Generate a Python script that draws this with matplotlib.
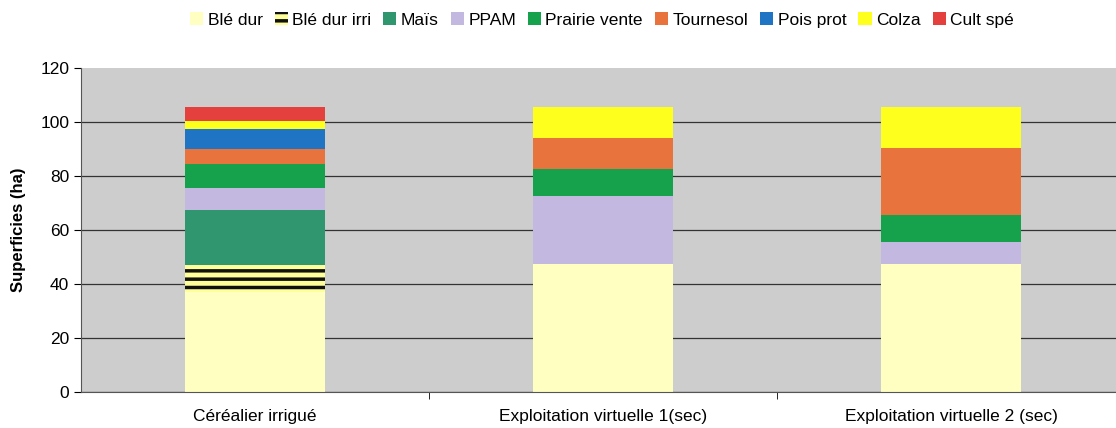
import numpy as np
import matplotlib.pyplot as plt

plt.rcParams['font.family'] = ['Liberation Sans', 'DejaVu Sans']
plt.rcParams['hatch.linewidth'] = 2.5

categories = ['Céréalier irrigué', 'Exploitation virtuelle 1(sec)', 'Exploitation virtuelle 2 (sec)']
cultures = ['Blé dur', 'Blé dur irri', 'Maïs', 'PPAM', 'Prairie vente',
            'Tournesol', 'Pois prot', 'Colza', 'Cult spé']

# surfaces (ha) par culture, une valeur par exploitation
ble_dur = [37, 47.5, 47.5]
ble_dur_irri = [10, 0, 0]
mais = [20.5, 0, 0]
ppam = [8, 25, 8]
prairie_vente = [9, 10, 10]
tournesol = [5.5, 11.5, 25]
pois_prot = [7.5, 0, 0]
colza = [3, 11.5, 15]
cult_spe = [5, 0, 0]

series = [ble_dur, ble_dur_irri, mais, ppam, prairie_vente,
          tournesol, pois_prot, colza, cult_spe]
colors = ['#ffffc2', '#ffff99', '#2f9670', '#c3b8e0', '#16a24c',
          '#e8733d', '#1f74c4', '#ffff1e', '#e3403e']

fig = plt.figure(figsize=(11.16, 4.28), dpi=100)
ax = fig.add_axes([81 / 1116, 1 - 392 / 428, (1125 - 81) / 1116, (392 - 68) / 428])
ax.set_facecolor('#cdcdce')

x = np.arange(len(categories))
bottom = np.zeros(len(categories))
for name, vals, col in zip(cultures, series, colors):
    vals = np.array(vals, dtype=float)
    if name == 'Blé dur irri':
        ax.bar(x, vals, 0.4, bottom=bottom, color=col, edgecolor='#111111',
               hatch='--', linewidth=0, label=name)
    else:
        ax.bar(x, vals, 0.4, bottom=bottom, color=col, linewidth=0, label=name)
    bottom += vals

ax.set_xlim(-0.5, 2.5)
ax.set_ylim(0, 120)
ax.set_yticks(np.arange(0, 121, 20))
ax.set_xticks(x)
ax.set_xticklabels(categories, fontsize=12.5)
ax.set_xticks([0.5, 1.5], minor=True)
ax.tick_params(axis='x', which='major', length=0, pad=12)
ax.tick_params(axis='x', which='minor', length=5, direction='out')
ax.tick_params(axis='y', labelsize=12.5, length=5, direction='out')
ax.yaxis.grid(True, color='#333333', linewidth=0.9)
ax.get_ygridlines()[-1].set_visible(False)
ax.set_axisbelow(True)
for s in ['top', 'right']:
    ax.spines[s].set_visible(False)
ax.spines['left'].set_color('#555555')
ax.spines['bottom'].set_color('#555555')
ax.set_ylabel('Superficies (ha)', fontsize=12, fontweight='bold', labelpad=10)

fig.legend(loc='center', bbox_to_anchor=(602 / 1116, 1 - 20 / 428), ncol=9,
           frameon=False, fontsize=12.5, handlelength=0.75, handleheight=0.75,
           handletextpad=0.25, columnspacing=0.7)

fig.savefig('out.png', dpi=100)
